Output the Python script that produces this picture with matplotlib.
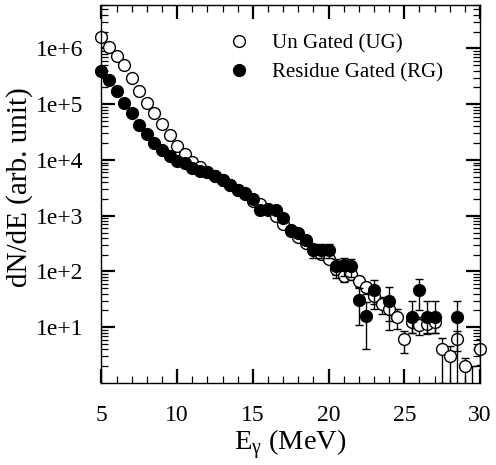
import numpy as np
import matplotlib
matplotlib.use("Agg")
import matplotlib.pyplot as plt
from matplotlib.lines import Line2D
from matplotlib.ticker import MultipleLocator, LogLocator, FixedLocator, FixedFormatter, NullFormatter

plt.rcParams['font.family'] = ['Liberation Serif', 'DejaVu Serif']
plt.rcParams['mathtext.fontset'] = 'custom'
plt.rcParams['mathtext.rm'] = 'Liberation Serif'

energy = np.arange(5.0, 30.01, 0.5)

ug = [1.59e6, 1.05e6, 7.4e5, 5.1e5, 3.0e5, 1.75e5, 1.05e5, 6.9e4, 4.4e4, 2.8e4,
      1.8e4, 1.29e4, 9.1e3, 7.6e3, 6.2e3, 5.2e3, 4.3e3, 3.5e3, 2.9e3, 2.45e3,
      1.85e3, 1.6e3, 1.25e3, 1.0e3, 7.2e2, 5.3e2, 4.2e2, 3.3e2, 2.5e2, 2.1e2,
      1.7e2, 1.1e2, 84, 91, 68, 52, 37, 26, 21, 15.3,
      6.2, 12.3, 11.2, 11.5, 12.3, 4.1, 3.0, 6.2, 2.0, 0.5, 4.1]
ug_lo = [0]*30 + [30, 25, 20, 20, 15, 13, 11, 9, 8, 6,
                  2.8, 4.3, 4.0, 4.0, 4.3, 3.1, 2.6, 2.5, 1.5, 0.0, 2.0]
ug_hi = [0]*30 + [30, 25, 20, 20, 15, 13, 11, 9, 8, 6,
                  2.4, 4.3, 4.0, 4.0, 4.3, 2.2, 1.6, 2.3, 0.8, 1.5, 2.0]

rg = [3.97e5, 2.66e5, 1.72e5, 1.07e5, 6.9e4, 4.3e4, 2.96e4, 2.05e4, 1.48e4, 1.16e4,
      9.4e3, 9.0e3, 7.2e3, 6.4e3, 5.97e3, 5.2e3, 4.4e3, 3.6e3, 2.93e3, 2.55e3,
      2.0e3, 1.28e3, 1.32e3, 1.28e3, 9.1e2, 5.6e2, 4.8e2, 3.7e2, 2.45e2, 2.45e2,
      2.45e2, 1.24e2, 1.3e2, 1.26e2, 31, 16, 46, np.nan, 30, np.nan,
      np.nan, 15, 46, 15, 15, np.nan, np.nan, 15, np.nan, np.nan, np.nan]
rg_lo = [0]*24 + [90, 70, 70, 67, 67, 67, 67, 46, 46, 46, 20, 12, 25, 0, 21, 0,
                  0, 7, 26, 7, 7, 0, 0, 15, 0, 0, 0]
rg_hi = [0]*24 + [90, 70, 70, 67, 67, 67, 67, 42, 42, 42, 20, 12, 25, 0, 22, 0,
                  0, 15, 26, 15, 15, 0, 0, 15, 0, 0, 0]

xticks = [5, 10, 15, 20, 25, 30]
yticks = [1e1, 1e2, 1e3, 1e4, 1e5, 1e6]
ytick_labels = ['1e+1', '1e+2', '1e+3', '1e+4', '1e+5', '1e+6']
labels = ['Un Gated (UG)', 'Residue Gated (RG)']

fig = plt.figure(figsize=(4.96, 4.65), dpi=100)
ax = fig.add_axes([0.2046, 0.1763, 0.7631, 0.8129])
ymin, ymax = 1, 6e6

def draw(vals, lo, hi, face, z):
    cont = ax.errorbar(energy, vals, yerr=[lo, hi], fmt='o', ms=8.5, mfc=face, mec='black',
                       mew=1.0, ecolor='black', elinewidth=1.0, capsize=3, capthick=1.0,
                       zorder=z)
    line = cont[0]
    line.set_clip_on(False)
    line.set_markevery([bool(np.isfinite(v) and v >= ymin) for v in vals])

draw(ug, ug_lo, ug_hi, 'white', 2)
draw(rg, rg_lo, rg_hi, 'black', 3)

ax.set_yscale('log')
ax.set_xlim(5, 30)
ax.set_ylim(ymin, ymax)

ax.xaxis.set_major_locator(FixedLocator(xticks))
ax.xaxis.set_minor_locator(MultipleLocator(1))
ax.yaxis.set_major_locator(FixedLocator(yticks))
ax.yaxis.set_major_formatter(FixedFormatter(ytick_labels))
ax.yaxis.set_minor_locator(LogLocator(base=10, subs=np.arange(2, 10), numticks=20))
ax.yaxis.set_minor_formatter(NullFormatter())

ax.tick_params(which='both', direction='in', top=True, right=True, labelsize=17)
ax.tick_params(axis='x', pad=16)
ax.tick_params(axis='y', pad=13)
ax.tick_params(which='major', length=10, width=1.6)
ax.tick_params(which='minor', length=5, width=0.9)
for s in ax.spines.values():
    s.set_linewidth(1.0)

ax.set_xlabel('E$_\\mathregular{γ}$ (MeV)', fontsize=20.5)
ax.set_ylabel('dN/dE (arb. unit)', fontsize=21)
ax.xaxis.set_label_coords(0.5, -0.118)
ax.yaxis.set_label_coords(-0.181, 0.517)

handles = [Line2D([], [], ls='none', marker='o', ms=8.5, mfc='white', mec='black', mew=1.0),
           Line2D([], [], ls='none', marker='o', ms=8.5, mfc='black', mec='black', mew=1.0)]
ax.legend(handles, labels, loc='upper left', bbox_to_anchor=(0.336, 0.924),
          frameon=False, fontsize=15, handlelength=1.0, handletextpad=1.1,
          labelspacing=0.45, borderpad=0, borderaxespad=0)

fig.savefig('out.png', dpi=100)
